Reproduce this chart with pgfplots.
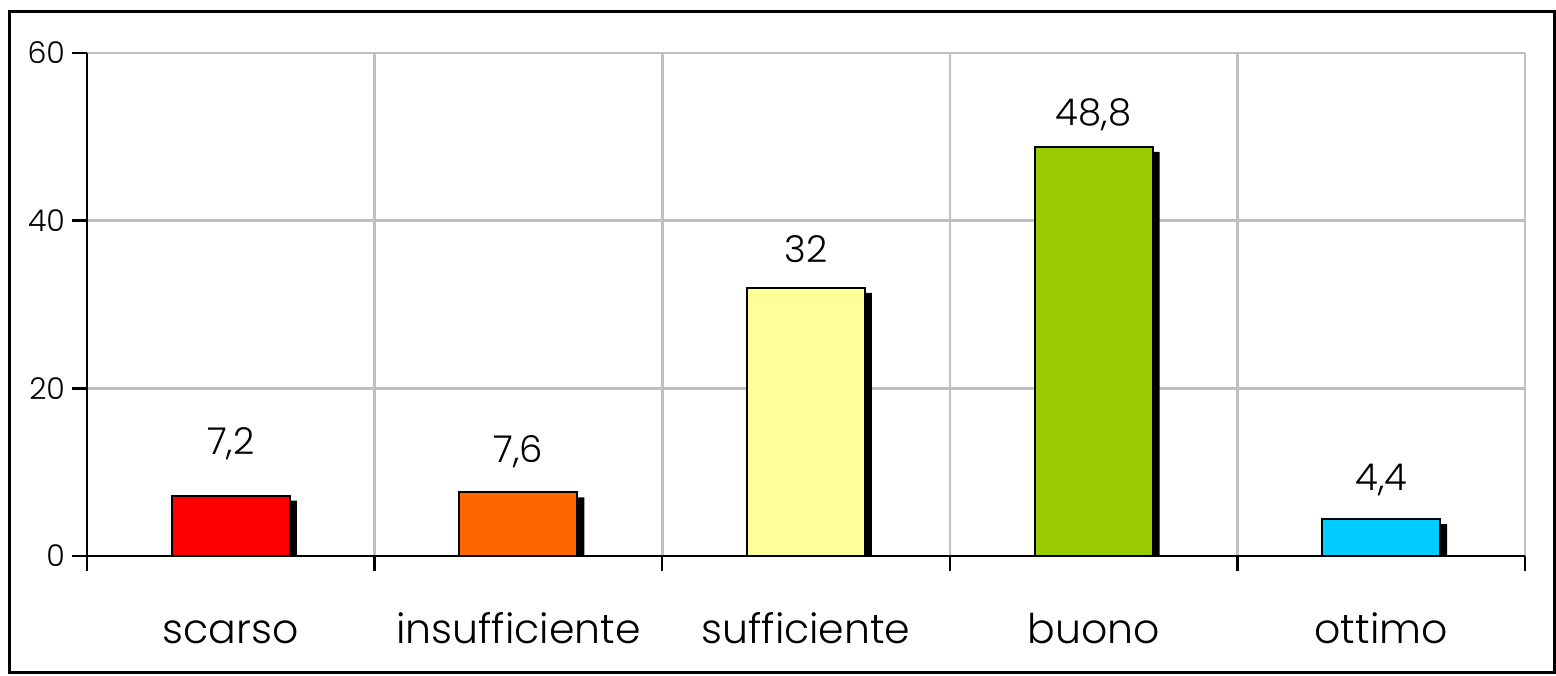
\documentclass[border=0pt]{standalone}
\usepackage{pgfplots}
\pgfplotsset{compat=1.18}
\usepackage{fontspec}
\setmainfont{Poppins}[UprightFont=* Light]
\definecolor{cRed}{HTML}{FF0000}
\definecolor{cOrange}{HTML}{FF6600}
\definecolor{cYellow}{HTML}{FFFF99}
\definecolor{cGreen}{HTML}{99CC00}
\definecolor{cCyan}{HTML}{00CCFF}
\definecolor{gridgray}{HTML}{C0C0C0}
\begin{document}
\begin{tikzpicture}
\useasboundingbox (-43.5pt,-59.5pt) rectangle (734.5pt,278pt);
\draw[line width=1.5pt] (-38.5pt,-58pt) rectangle (733.5pt,272pt);
\begin{axis}[
  at={(0,0)}, anchor=south west,
  scale only axis, width=719pt, height=251.5pt,
  xmin=0, xmax=5, ymin=0, ymax=60,
  axis lines*=left,
  axis line style={line width=1.2pt},
  xtick={0,1,2,3,4,5},
  xticklabels={},
  xmajorgrids, ymajorgrids,
  extra x ticks={0.5,1.5,2.5,3.5,4.5},
  extra x tick labels={scarso,insufficiente,sufficiente,buono,ottimo},
  extra x tick style={grid=none, major tick length=0pt,
     tick label style={font=\fontsize{20.5}{22}\selectfont, anchor=base, yshift=-43.5pt}},
  ytick={0,20,40,60},
  yticklabel style={font=\fontsize{15}{17}\selectfont},
  every tick/.style={black, line width=1.2pt},
  major tick length=7.5pt,
  tick align=outside,
  grid style={gridgray, line width=1.3pt},
  /pgf/number format/assume math mode=true,
  bar width=0.41,
  clip=false,
]
\addplot[ybar, fill=black, draw=none, bar shift=3.5pt, forget plot] coordinates {(0.5,6.6) (1.5,7.0) (2.5,31.4) (3.5,48.2) (4.5,3.8)};
\addplot[ybar, bar shift=0pt, fill=cRed, draw=black, line width=1pt] coordinates {(0.5,7.2)};
\addplot[ybar, bar shift=0pt, fill=cOrange, draw=black, line width=1pt] coordinates {(1.5,7.6)};
\addplot[ybar, bar shift=0pt, fill=cYellow, draw=black, line width=1pt] coordinates {(2.5,32)};
\addplot[ybar, bar shift=0pt, fill=cGreen, draw=black, line width=1pt] coordinates {(3.5,48.8)};
\addplot[ybar, bar shift=0pt, fill=cCyan, draw=black, line width=1pt] coordinates {(4.5,4.4)};
\addplot[only marks, mark=none, point meta=explicit symbolic,
  nodes near coords, nodes near coords align={center},
  every node near coord/.append style={anchor=base, font=\fontsize{18.5}{20}\selectfont, inner sep=0pt}]
  table[meta=lab] {
x y lab
0.5 12.05 {7,2}
1.5 11.21 {7,6}
2.5 35.07 32
3.5 51.41 {48,8}
4.5 7.87 {4,4}
};
\end{axis}
\end{tikzpicture}
\end{document}
